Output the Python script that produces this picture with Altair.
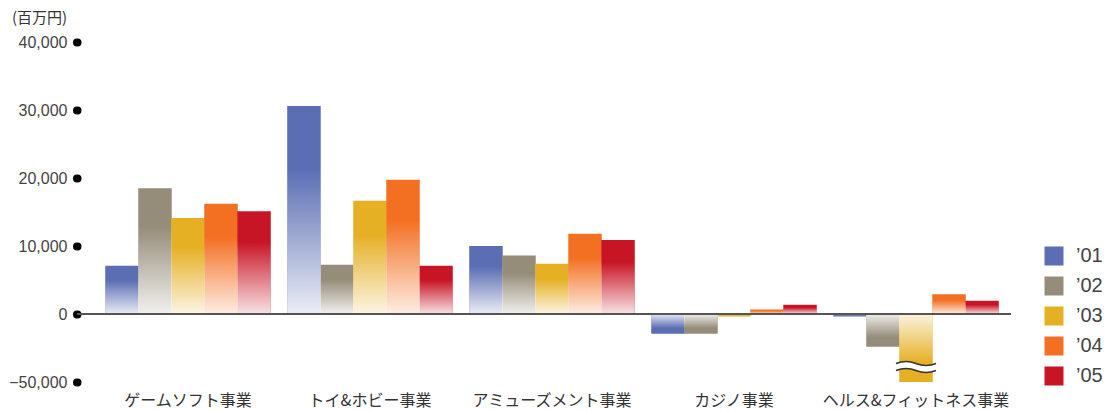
import altair as alt
import pandas as pd

# Segment operating income (millions of yen), fiscal years '01-'05
categories = ["ゲームソフト事業", "トイ&ホビー事業", "アミューズメント事業", "カジノ事業", "ヘルス&フィットネス事業"]
years = ["’01", "’02", "’03", "’04", "’05"]
v01 = [7100, 30600, 10000, -2900, -350]
v02 = [18500, 7250, 8600, -2900, -4800]
v03 = [14100, 16650, 7400, -350, -50000]
v04 = [16200, 19750, 11800, 650, 2900]
v05 = [15100, 7100, 10900, 1350, 1950]
colors = ["#5B6DB3", "#958C79", "#E6B024", "#F37022", "#C81526"]
tick_values = [-50000, 0, 10000, 20000, 30000, 40000]

# where the truncated bar is cut by the wavy break symbol
break_cat = "ヘルス&フィットネス事業"
break_year = "’03"
break_at = -7800

rows = []
for yr, vals in zip(years, [v01, v02, v03, v04, v05]):
    for cat, v in zip(categories, vals):
        rows.append({"category": cat, "year": yr, "value": v})
df = pd.DataFrame(rows)
brk = pd.DataFrame([{"category": break_cat, "year": break_year, "value": break_at}])

W, H = 910, 340

x_enc = alt.X("category:N", sort=categories, title=None,
              scale=alt.Scale(paddingInner=0.093, paddingOuter=0.0465),
              axis=alt.Axis(orient="bottom", domain=False, ticks=False, labelAngle=0,
                            labelFont="Noto Sans CJK JP", labelFontSize=16, labelLimit=400,
                            labelColor="#333333", labelPadding=10))
xo_enc = alt.XOffset("year:N", sort=years, scale=alt.Scale(paddingInner=0, paddingOuter=0))
# broken axis: linear down to -8,500, then compressed to -50,000
y_enc = alt.Y("value:Q", title=None,
              scale=alt.Scale(domain=[-50000, -8500, 0, 40000],
                              range=[H, 272 + 57.8, 272, 0], zero=False, nice=False),
              axis=alt.Axis(values=tick_values, labelExpr="format(datum.value, ',')",
                            domain=False, grid=False,
                            offset=20, tickSize=0.5, tickWidth=8, tickCap="round",
                            tickColor="#000000", labelPadding=9.5,
                            labelFont="Liberation Sans", labelFontSize=16,
                            labelColor="#444444"))

base = alt.Chart(df)

bars = base.mark_bar(size=33.5).encode(
    x=x_enc, xOffset=xo_enc, y=y_enc,
    color=alt.Color("year:N", sort=years,
                    scale=alt.Scale(domain=years, range=colors),
                    legend=alt.Legend(title=None, orient="none", legendX=947, legendY=204,
                                      symbolType="square", symbolSize=361,
                                      symbolStrokeWidth=0, labelFont="Liberation Sans",
                                      labelFontSize=20, labelColor="#444444",
                                      labelOffset=12, rowPadding=10, padding=0)),
)

fade_down = alt.LinearGradient(
    gradient="linear", x1=0, x2=0, y1=0, y2=1,
    stops=[alt.GradientStop(offset=0, color="rgba(255,255,255,0)"),
           alt.GradientStop(offset=0.3, color="rgba(255,255,255,0)"),
           alt.GradientStop(offset=1, color="rgba(255,255,255,0.88)")])
fade_up = alt.LinearGradient(
    gradient="linear", x1=0, x2=0, y1=0, y2=1,
    stops=[alt.GradientStop(offset=0, color="rgba(255,255,255,0.85)"),
           alt.GradientStop(offset=0.72, color="rgba(255,255,255,0)"),
           alt.GradientStop(offset=1, color="rgba(255,255,255,0)")])

shade_pos = base.transform_filter(alt.datum.value > 0).mark_bar(
    size=33.5, color=fade_down).encode(x=x_enc, xOffset=xo_enc, y=y_enc)
shade_neg = base.transform_filter(alt.datum.value < 0).mark_bar(
    size=33.5, color=fade_up).encode(x=x_enc, xOffset=xo_enc, y=y_enc)

# wavy break symbol drawn across the truncated bar
band_path = ("M -1 -0.175 C -0.67 -0.305 -0.33 -0.305 0 -0.175 "
             "C 0.33 -0.045 0.67 -0.045 1 -0.175 L 1 0.175 "
             "C 0.67 0.305 0.33 0.305 0 0.175 C -0.33 0.045 -0.67 0.045 -1 0.175 Z")
line_path = ("M -1 -0.175 C -0.67 -0.305 -0.33 -0.305 0 -0.175 "
             "C 0.33 -0.045 0.67 -0.045 1 -0.175 "
             "M -1 0.175 C -0.67 0.045 -0.33 0.045 0 0.175 "
             "C 0.33 0.305 0.67 0.305 1 0.175")
wave_fill = alt.Chart(brk).mark_point(
    shape=band_path, size=1600, filled=True, fill="#ffffff", strokeWidth=0, opacity=1
).encode(x=x_enc, xOffset=xo_enc, y=y_enc)
wave_line = alt.Chart(brk).mark_point(
    shape=line_path, size=1600, filled=False, stroke="#333333", strokeWidth=1.6, opacity=1
).encode(x=x_enc, xOffset=xo_enc, y=y_enc)

zero_rule = alt.Chart(brk).mark_rule(color="#555555", strokeWidth=2).encode(
    y=alt.datum(0), x=alt.value(-20), x2=alt.value(W + 4))

chart = alt.layer(bars, shade_pos, shade_neg, wave_fill, wave_line, zero_rule).properties(
    width=W, height=H,
    title=alt.TitleParams("(百万円)", anchor="start", frame="group", dx=-85, offset=8,
                          font="Noto Sans CJK JP", fontSize=15, fontWeight="normal",
                          color="#333333"),
    autosize=alt.AutoSizeParams(type="none"),
    padding={"left": 97, "top": 42, "right": 101, "bottom": 29},
).configure_view(stroke=None)

chart.save("out.html", embed_options={"renderer": "svg", "actions": False})
